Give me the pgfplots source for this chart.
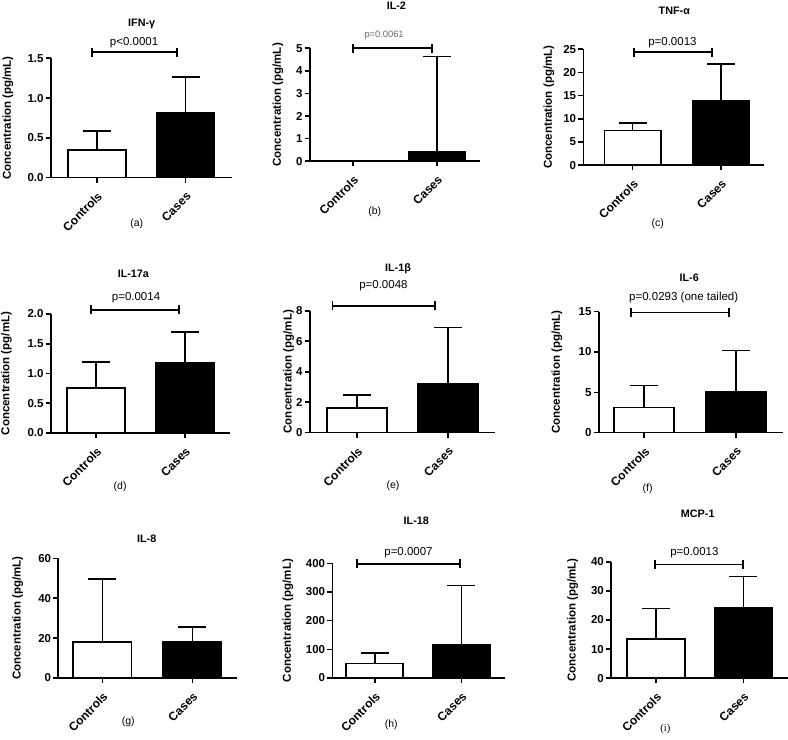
\documentclass[border=0pt]{standalone}
\usepackage{pgfplots}
\pgfplotsset{compat=1.18}
\usepackage{fontspec}
\setmainfont{Liberation Sans}
\newfontfamily\seriffont{Liberation Serif}
\newcommand\tkfont{\bfseries\fontsize{11.5bp}{13bp}\selectfont}
\newcommand\ttlfont{\bfseries\fontsize{10.8bp}{12bp}\selectfont}
\newcommand\ctfont{\bfseries\fontsize{12bp}{14bp}\selectfont}
\newcommand\pfont{\fontsize{11.5bp}{13bp}\selectfont}
\pgfplotsset{
 panel/.style={
  scale only axis, clip=false,
  axis lines=left, axis line style={-, line width=1.6bp, black},
  ymin=0,
  xtick={0,1}, xticklabels={Controls,Cases},
  tick align=outside, major tick length=5bp,
  tick style={black, line width=1.6bp},
  x tick label style={rotate=45, anchor=north east, font=\ctfont, inner sep=3bp},
  xticklabel shift=4bp,
  y tick label style={font=\tkfont, inner sep=2bp},
  /pgf/number format/assume math mode=true,
  ylabel={Concentration (pg/mL)},
  title style={font=\ttlfont, anchor=center, yshift=-7bp},
  xlabel style={font=\fontsize{10.5bp}{12bp}\selectfont, anchor=center, yshift=-2bp},
  ylabel style={font=\tkfont, anchor=center},
  /pgfplots/error bars/error bar style={line width=1.6bp, black, solid},
 },
 dec/.style={/pgf/number format/.cd, fixed, fixed zerofill, precision=1},
 ctrl/.style={ybar, bar shift=0pt, bar width=#1bp, fill=white, draw=black, line width=1.6bp,
   error bars/.cd, y dir=plus, y explicit,
   error mark=|, error mark options={line width=1.6bp, mark size=14bp, black, solid}},
 case/.style={ybar, bar shift=0pt, bar width=#1bp, fill=black, draw=black, line width=1.6bp,
   error bars/.cd, y dir=plus, y explicit,
   error mark=|, error mark options={line width=1.6bp, mark size=14bp, black, solid}},
}
% x1, x2, y, text x, text offset, text
\newcommand{\pbar}[6]{%
  \draw[line width=1.7bp] (axis cs:#1,#3) -- (axis cs:#2,#3);
  \draw[line width=1.7bp] ([yshift=-4.5bp]axis cs:#1,#3) -- ([yshift=4.5bp]axis cs:#1,#3);
  \draw[line width=1.7bp] ([yshift=-4.5bp]axis cs:#2,#3) -- ([yshift=4.5bp]axis cs:#2,#3);
  \node[anchor=center, inner sep=0pt] at ([yshift=#5bp]axis cs:#4,#3) {#6};
}
\begin{document}
\begin{tikzpicture}
\path[use as bounding box] (0,0) rectangle (788bp,740bp);

% (a) IFN-gamma
\begin{axis}[panel, at={(50.7bp,562.3bp)}, anchor=south west, width=181bp, height=119.4bp,
  xmin=-0.517, xmax=1.517, ymax=1.5, ytick={0,0.5,1,1.5}, yticklabel style={dec},
  ylabel style={at={(axis description cs:-0.236,0.5)}},
  xlabel={(a)}, xlabel style={at={(axis description cs:0.475,-0.371)}},
  title={IFN-γ}, title style={at={(axis description cs:0.503,1.296)}}]
\addplot[ctrl=58] coordinates {(0,0.345) +- (0,0.24)};
\addplot[case=58] coordinates {(1,0.815) +- (0,0.45)};
\pbar{-0.056}{0.899}{1.575}{0.42}{10}{\pfont p<0.0001}
\end{axis}

% (b) IL-2
\begin{axis}[panel, at={(309.7bp,578.7bp)}, anchor=south west, width=170.6bp, height=113bp,
  xmin=-0.515, xmax=1.515, ymax=5, ytick={0,1,2,3,4,5},
  ylabel style={at={(axis description cs:-0.186,0.5)}},
  xlabel={(b)}, xlabel style={at={(axis description cs:0.381,-0.425)}},
  title={IL-2}, title style={at={(axis description cs:0.508,1.383)}}]
\addplot[ybar, bar shift=0pt, bar width=55.6bp, fill=white, draw=black, line width=1.6bp] coordinates {(0,0)};
\addplot[case=55.6] coordinates {(1,0.43) +- (0,4.20)};
\pbar{0}{0.944}{5}{0.37}{13.3}{\fontsize{9.3bp}{11bp}\selectfont\color{black!60}p=0.0061}
\end{axis}

% (c) TNF-alpha
\begin{axis}[panel, at={(583.3bp,574.7bp)}, anchor=south west, width=181bp, height=116bp,
  xmin=-0.559, xmax=1.490, ymax=25, ytick={0,5,10,15,20,25},
  ylabel style={at={(axis description cs:-0.190,0.5)}},
  xlabel={(c)}, xlabel style={at={(axis description cs:0.411,-0.489)}},
  title={TNF-α}, title style={at={(axis description cs:0.503,1.339)}}]
\addplot[ctrl=56.7] coordinates {(0,7.5) +- (0,1.6)};
\addplot[case=56.7] coordinates {(1,14.0) +- (0,7.8)};
\pbar{0.015}{0.895}{24.35}{0.45}{10}{\pfont p=0.0013}
\end{axis}

% (d) IL-17a
\begin{axis}[panel, at={(50.7bp,307bp)}, anchor=south west, width=179.3bp, height=119bp,
  xmin=-0.509, xmax=1.506, ymax=2, ytick={0,0.5,1,1.5,2}, yticklabel style={dec},
  ylabel style={at={(axis description cs:-0.247,0.5)}},
  xlabel={(d)}, xlabel style={at={(axis description cs:0.387,-0.437)}},
  title={IL-17a}, title style={at={(axis description cs:0.461,1.345)}}]
\addplot[ctrl=58] coordinates {(0,0.76) +- (0,0.43)};
\addplot[case=58] coordinates {(1,1.18) +- (0,0.52)};
\pbar{-0.06}{0.933}{2.07}{0.45}{11.7}{\pfont p=0.0014}
\end{axis}

% (e) IL-1beta
\begin{axis}[panel, at={(309.7bp,307.3bp)}, anchor=south west, width=185bp, height=122bp,
  xmin=-0.520, xmax=1.513, ymax=8, ytick={0,2,4,6,8},
  ylabel style={at={(axis description cs:-0.114,0.5)}},
  xlabel={(e)}, xlabel style={at={(axis description cs:0.450,-0.42)}},
  title={IL-1β}, title style={at={(axis description cs:0.477,1.35)}}]
\addplot[ctrl=60] coordinates {(0,1.62) +- (0,0.85)};
\addplot[case=60] coordinates {(1,3.19) +- (0,3.72)};
\pbar{-0.271}{0.860}{8.31}{0.29}{20}{\pfont p=0.0048}
\end{axis}

% (f) IL-6
\begin{axis}[panel, at={(598.7bp,307.3bp)}, anchor=south west, width=184bp, height=121bp,
  xmin=-0.497, xmax=1.509, ymax=15, ytick={0,5,10,15},
  ylabel style={at={(axis description cs:-0.227,0.5)}},
  xlabel={(f)}, xlabel style={at={(axis description cs:0.266,-0.449)}},
  title={IL-6}, title style={at={(axis description cs:0.492,1.287)}}]
\addplot[ctrl=60] coordinates {(0,3.10) +- (0,2.77)};
\addplot[case=60] coordinates {(1,5.08) +- (0,5.12)};
\pbar{-0.145}{0.927}{14.9}{0.43}{15}{\pfont p=0.0293 (one tailed)}
\end{axis}

% (g) IL-8
\begin{axis}[panel, at={(58.3bp,62bp)}, anchor=south west, width=179bp, height=119.7bp,
  xmin=-0.489, xmax=1.5, ymax=60, ytick={0,20,40,60},
  ylabel style={at={(axis description cs:-0.227,0.5)}},
  xlabel={(g)}, xlabel style={at={(axis description cs:0.391,-0.351)}},
  title={IL-8}, title style={at={(axis description cs:0.494,1.170)}}]
\addplot[ctrl=58.5] coordinates {(0,17.9) +- (0,31.6)};
\addplot[case=58.5] coordinates {(1,18.2) +- (0,7.5)};
\end{axis}

% (h) IL-18
\begin{axis}[panel, at={(332.3bp,62bp)}, anchor=south west, width=172.4bp, height=114.7bp,
  xmin=-0.490, xmax=1.501, ymax=400, ytick={0,100,200,300,400},
  ylabel style={at={(axis description cs:-0.257,0.5)}},
  xlabel={(h)}, xlabel style={at={(axis description cs:0.342,-0.392)}},
  title={IL-18}, title style={at={(axis description cs:0.487,1.378)}}]
\addplot[ctrl=57] coordinates {(0,50) +- (0,37)};
\addplot[case=57] coordinates {(1,117.4) +- (0,204.6)};
\pbar{-0.201}{0.982}{398}{0.39}{11}{\pfont p=0.0007}
\end{axis}

% (i) MCP-1
\begin{axis}[panel, at={(611bp,61.7bp)}, anchor=south west, width=177bp, height=116.6bp,
  xmin=-0.515, xmax=1.512, ymax=40, ytick={0,10,20,30,40},
  ylabel style={at={(axis description cs:-0.216,0.5)}},
  xlabel={{\seriffont (i)}}, xlabel style={at={(axis description cs:0.307,-0.418)}},
  title={MCP-1}, title style={at={(axis description cs:0.490,1.418)}}]
\addplot[ctrl=58] coordinates {(0,13.5) +- (0,10.4)};
\addplot[case=58] coordinates {(1,24.2) +- (0,10.7)};
\pbar{-0.008}{1.0}{39.0}{0.44}{11.7}{\pfont p=0.0013}
\end{axis}
\end{tikzpicture}
\end{document}
